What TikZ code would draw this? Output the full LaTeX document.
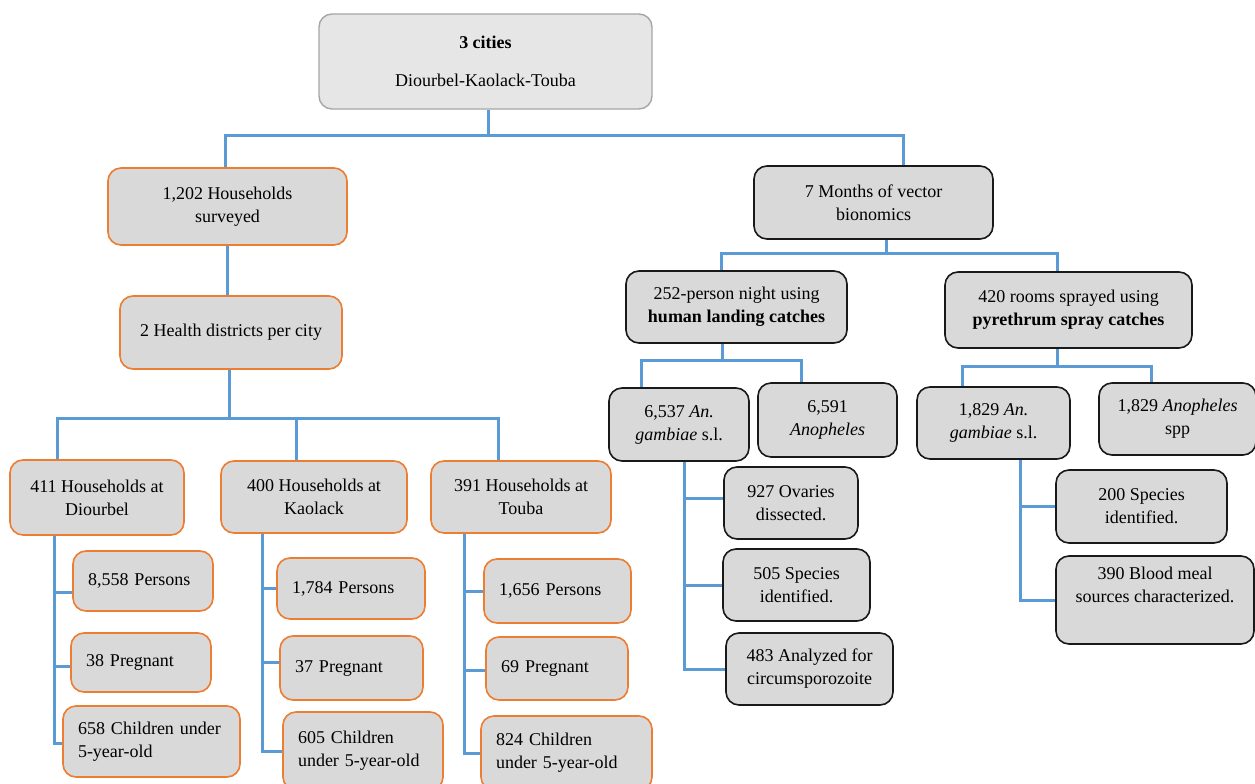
\documentclass[tikz,border=0pt]{standalone}
\usepackage{fontspec}
\setmainfont{Liberation Serif}
\newfontfamily\timesfont{Liberation Serif}
\usepackage{tikz}

\definecolor{boxfill}{HTML}{D9D9D9}
\definecolor{topfill}{HTML}{E7E6E6}
\definecolor{topedge}{HTML}{A6A6A6}
\definecolor{boxorange}{HTML}{ED7D31}
\definecolor{linkblue}{HTML}{5B9BD5}

\tikzset{
  base/.style={rounded corners=13pt, fill=boxfill, line width=1.6pt, inner sep=0pt,
    font=\timesfont\fontsize{18}{23}\selectfont},
  obox/.style 2 args={base, draw=boxorange, align=center, minimum width=#1, minimum height=#2},
  kbox/.style 2 args={base, draw=black!90, align=center, minimum width=#1, minimum height=#2},
  lbox/.style 2 args={base, draw=boxorange, align=left, inner xsep=15pt, text width=#1, minimum height=#2},
  link/.style={draw=linkblue, line width=3pt}
}

\begin{document}
\begin{tikzpicture}[x=1pt,y=-1pt]
\useasboundingbox (0,0) rectangle (1255,784);

% survey side
\node[base, draw=topedge, fill=topfill, line width=1.4pt, align=center, minimum width=333, minimum height=95] (top) at (485.5,61.5) {\textbf{3 cities}\\[15pt]Diourbel-Kaolack-Touba};
\node[obox={239}{77}] (hh) at (227.5,206.5) {1,202 Households\\surveyed};
\node[obox={222}{73}] (hd) at (231,332.5) {2 Health districts per city};
\node[obox={174}{75}] (dio) at (97,497.5) {411 Households at\\Diourbel};
\node[obox={186}{72}] (kao) at (314,497) {400 Households at\\Kaolack};
\node[obox={180}{72}] (tou) at (521,497) {391 Households at\\Touba};

\node[lbox={110}{60}] (dp) at (143,581) {8,558 Persons};
\node[lbox={110}{59}] (dg) at (141,662.5) {38 Pregnant};
\node[lbox={147}{71}] (dc) at (151.5,741.5) {658 Children under\\5-year-old};
\node[lbox={118}{61}] (kp) at (351,588.5) {1,784 Persons};
\node[lbox={113}{64}] (kg) at (351.5,668) {37 Pregnant};
\node[lbox={130}{78}] (kc) at (363,751) {605 Children\\under 5-year-old};
\node[lbox={117}{64}] (tp) at (557.5,591) {1,656 Persons};
\node[lbox={112}{63}] (tg) at (557,668.5) {69 Pregnant};
\node[lbox={141}{74}] (tc) at (566.5,753) {824 Children\\under 5-year-old};

% vector side
\node[kbox={239}{73}] (vb) at (873.5,202.5) {7 Months of vector\\bionomics};
\node[kbox={221}{72}] (hlc) at (736.5,307) {252-person night using\\\textbf{human landing catches}};
\node[kbox={247}{76}] (psc) at (1068.5,310) {420 rooms sprayed using\\\textbf{pyrethrum spray catches}};
\node[kbox={140}{73}] (g1) at (679,424.5) {6,537 \textit{An.}\\\textit{gambiae} s.l.};
\node[kbox={139}{74}] (a1) at (827.5,420) {6,591\\\textit{Anopheles}};
\node[kbox={134}{72}] (ov) at (791,503) {927 Ovaries\\dissected.};
\node[kbox={147}{72}] (sp1) at (796.5,585) {505 Species\\identified.};
\node[kbox={167}{72}] (cs) at (809.5,669) {483 Analyzed for\\circumsporozoite};
\node[kbox={153}{72}] (g2) at (993.5,423) {1,829 \textit{An.}\\\textit{gambiae} s.l.};
\node[kbox={157}{72}] (a2) at (1177.5,419) {1,829 \textit{Anopheles}\\spp};
\node[kbox={171}{73}] (sp2) at (1141.5,506.5) {200 Species\\identified.};
\node[kbox={198}{88}] (bm) at (1155,600) {390 Blood meal\\sources characterized.\\[8pt]};

% tree lines
\coordinate (tj) at (488,135);
\coordinate (tl) at (225,135);
\coordinate (tr) at (903,135);
\draw[link] (tj |- top.south) -- (tj);
\draw[link] (tl |- hh.north) -- (tl) -- (tr) -- (tr |- vb.north);
\draw[link] (hh.south) -- (hh.south |- hd.north);

\coordinate (mj) at (229,418);
\coordinate (ml) at (57,418);
\coordinate (mm) at (296,418);
\coordinate (mr) at (498,418);
\draw[link] (mj |- hd.south) -- (mj);
\draw[link] (ml |- dio.north) -- (ml) -- (mr) -- (mr |- tou.north);
\draw[link] (mm) -- (mm |- kao.north);

\coordinate (dt) at (54,0);
\draw[link] (dt |- dio.south) |- ([yshift=-11pt]dp.west);
\draw[link] (dt |- dio.south) |- ([yshift=-4pt]dg.west);
\draw[link] (dt |- dio.south) |- ([yshift=-2pt]dc.west);
\coordinate (kt) at (262,0);
\draw[link] (kt |- kao.south) |- (kp.west);
\draw[link] (kt |- kao.south) |- ([yshift=6pt]kg.west);
\draw[link] (kt |- kao.south) |- (kc.west);
\coordinate (ut) at (464,0);
\draw[link] (ut |- tou.south) |- (tp.west);
\draw[link] (ut |- tou.south) |- ([yshift=-2pt]tg.west);
\draw[link] (ut |- tou.south) |- (tc.west);

\coordinate (vj) at (886,253);
\coordinate (vl) at (721,253);
\coordinate (vr) at (1057,253);
\draw[link] (vj |- vb.south) -- (vj);
\draw[link] (vl |- hlc.north) -- (vl) -- (vr) -- (vr |- psc.north);

\coordinate (hj) at (722,360);
\coordinate (hl) at (641,360);
\coordinate (hr) at (801,360);
\draw[link] (hj |- hlc.south) -- (hj);
\draw[link] (hl |- g1.north) -- (hl) -- (hr) -- (hr |- a1.north);

\coordinate (pj) at (1057,366);
\coordinate (pl) at (962,366);
\coordinate (pr) at (1151,366);
\draw[link] (pj |- psc.south) -- (pj);
\draw[link] (pl |- g2.north) -- (pl) -- (pr) -- (pr |- a2.north);

\coordinate (gt) at (684,0);
\draw[link] (gt |- g1.south) |- ([yshift=5pt]ov.west);
\draw[link] (gt |- g1.south) |- (sp1.west);
\draw[link] (gt |- g1.south) |- (cs.west);
\coordinate (qt) at (1020,0);
\draw[link] (qt |- g2.south) |- (sp2.west);
\draw[link] (qt |- g2.south) |- (bm.west);
\end{tikzpicture}
\end{document}
